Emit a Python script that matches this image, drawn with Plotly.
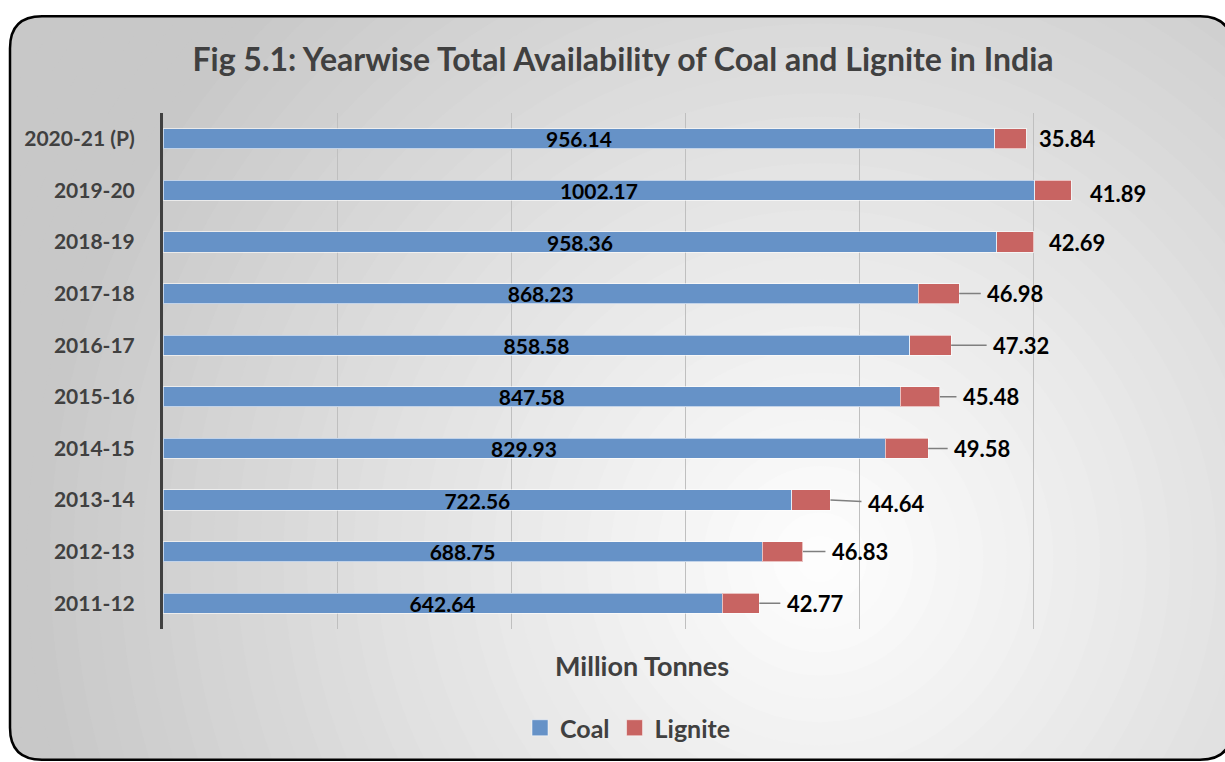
import plotly.graph_objects as go

years = ["2011-12", "2012-13", "2013-14", "2014-15", "2015-16",
         "2016-17", "2017-18", "2018-19", "2019-20", "2020-21 (P)"]
coal = [642.64, 688.75, 722.56, 829.93, 847.58, 858.58, 868.23, 958.36, 1002.17, 956.14]
lignite = [42.77, 46.83, 44.64, 49.58, 45.48, 47.32, 46.98, 42.69, 41.89, 35.84]

# label placement styling (pixel gap after bar end, leader line flag, vertical nudge)
label_gap = [28, 29, 38, 26, 23, 42, 28, 13, 17, 11]
label_leader = [True, True, True, True, True, True, True, False, False, False]
label_dy = [0, 0, 3, 0, 0, 0, 0, 0, 3, 0]

W, H = 1225, 762
L, R, T, B = 163, 1207, 113, 630
FONT = "Lato"
DARK = "#404040"
BLUE = "#6692C7"
RED = "#C86462"


def px(x):
    return (x - L) / (R - L)


def py(y):
    return (B - y) / (B - T)


fig = go.Figure()
fig.add_trace(go.Bar(
    y=years, x=coal, orientation="h", name="Coal", showlegend=False,
    marker=dict(color=BLUE, line=dict(color="rgba(255,255,255,0.6)", width=1)),
    text=[f"{v:.2f}" for v in coal], textposition="inside", insidetextanchor="middle",
    textfont=dict(family=FONT, size=21, color="black", weight="bold"),
    constraintext="none", hoverinfo="x+y",
))
fig.add_trace(go.Bar(
    y=years, x=lignite, orientation="h", name="Lignite", showlegend=False,
    marker=dict(color=RED, line=dict(color="rgba(255,255,255,0.6)", width=1)),
    hoverinfo="x+y",
))
# legend entries with square swatches
for nm, col in (("Coal", BLUE), ("Lignite", RED)):
    fig.add_trace(go.Scatter(
        x=[None], y=[None], mode="markers", name=nm, showlegend=True,
        marker=dict(symbol="square", size=16, color=col,
                    line=dict(color="rgba(255,255,255,0.5)", width=1)),
    ))

annotations = []
for yr, c, l, g, lead, dy in zip(years, coal, lignite, label_gap, label_leader, label_dy):
    tot = c + l
    if lead:
        annotations.append(dict(
            x=tot, y=yr, xref="x", yref="y", text=f"{l:.2f}",
            showarrow=True, arrowhead=0, arrowwidth=1.5, arrowcolor="#7f7f7f",
            ax=g + 28, ay=dy, standoff=0, borderpad=6,
            font=dict(family=FONT, size=22, color="black", weight="bold"),
        ))
    else:
        annotations.append(dict(
            x=tot, y=yr, xref="x", yref="y", text=f"{l:.2f}",
            showarrow=False, xanchor="left", xshift=g, yshift=-dy,
            font=dict(family=FONT, size=22, color="black", weight="bold"),
        ))

annotations.append(dict(
    x=px(642), y=py(667), xref="paper", yref="paper", text="Million Tonnes",
    showarrow=False, xanchor="center", yanchor="middle",
    font=dict(family=FONT, size=27, color=DARK, weight="bold"),
))

shapes = []
# radial gradient background
cx, cy = 820, 560
n = 45
for i in range(n):
    r = 1050 * (1 - i / n)
    g = 255 - 55 * min(r / 800, 1.0)
    gi = int(round(g))
    shapes.append(dict(
        type="circle", xref="paper", yref="paper", layer="below",
        x0=px(cx - r), x1=px(cx + r), y0=py(cy + r), y1=py(cy - r),
        fillcolor=f"rgb({gi},{gi},{gi})", line=dict(width=0),
    ))

# rounded frame
x0f, y0f, x1f, y1f, rad = 10, 16, 1232, 761, 32


def rr_path():
    return (f"M {px(x0f)},{py(y0f + rad)} "
            f"Q {px(x0f)},{py(y0f)} {px(x0f + rad)},{py(y0f)} "
            f"L {px(x1f - rad)},{py(y0f)} "
            f"Q {px(x1f)},{py(y0f)} {px(x1f)},{py(y0f + rad)} "
            f"L {px(x1f)},{py(y1f - rad)} "
            f"Q {px(x1f)},{py(y1f)} {px(x1f - rad)},{py(y1f)} "
            f"L {px(x0f + rad)},{py(y1f)} "
            f"Q {px(x0f)},{py(y1f)} {px(x0f)},{py(y1f - rad)} Z")


outer = (f"M {px(-20)},{py(-20)} L {px(W + 20)},{py(-20)} "
         f"L {px(W + 20)},{py(H + 20)} L {px(-20)},{py(H + 20)} Z ")
shapes.append(dict(type="path", xref="paper", yref="paper", layer="below",
                   path=outer + rr_path(), fillcolor="white", fillrule="evenodd",
                   line=dict(width=0)))
shapes.append(dict(type="path", xref="paper", yref="paper", layer="below",
                   path=rr_path(), fillcolor="rgba(0,0,0,0)",
                   line=dict(color="black", width=2.5)))

fig.update_layout(
    width=W, height=H,
    margin=dict(l=L, r=W - R, t=T, b=H - B, pad=0),
    paper_bgcolor="white", plot_bgcolor="rgba(0,0,0,0)",
    barmode="stack", bargap=0.61,
    title=dict(text="Fig 5.1: Yearwise Total Availability of Coal and Lignite in India",
               xref="container", yref="container",
               x=623 / W, xanchor="center", y=1 - 60 / H, yanchor="middle",
               font=dict(family=FONT, size=32, color=DARK, weight="bold")),
    xaxis=dict(range=[0, 1200], tick0=0, dtick=200, showticklabels=False,
               showgrid=True, gridcolor="#bfbfbf", gridwidth=1,
               zeroline=False, showline=False, fixedrange=True),
    yaxis=dict(type="category", showline=True, linecolor=DARK, linewidth=3, ticks="",
               ticklabelstandoff=21, showgrid=False, fixedrange=True,
               tickfont=dict(family=FONT, size=21, color=DARK, weight="bold")),
    legend=dict(orientation="h", x=px(628), xanchor="center", y=py(728), yanchor="middle",
                traceorder="normal", bgcolor="rgba(0,0,0,0)", itemsizing="trace",
                font=dict(family=FONT, size=25, color=DARK, weight="bold")),
    annotations=annotations, shapes=shapes, showlegend=True,
)

fig.write_html("out.html", post_script="document.body.style.margin='0';",
               config={"displayModeBar": False})
